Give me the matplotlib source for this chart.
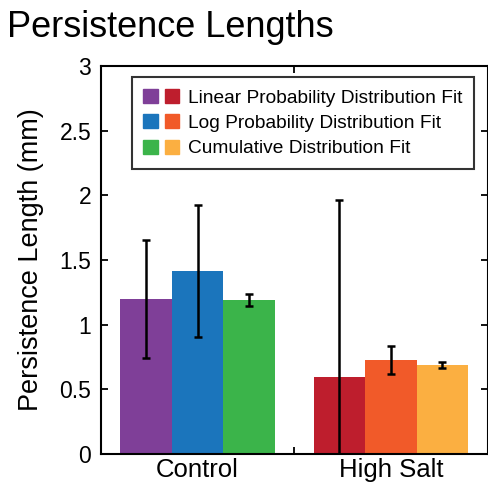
import numpy as np
import matplotlib.pyplot as plt
from matplotlib.patches import Patch
from matplotlib.legend_handler import HandlerTuple

plt.rcParams['font.family'] = ['Liberation Sans', 'DejaVu Sans']

groups = ['Control', 'High Salt']
fit_names = ['Linear Probability Distribution Fit',
             'Log Probability Distribution Fit',
             'Cumulative Distribution Fit']
# rows: fit method, columns: group
values = [[1.20, 0.595],
          [1.415, 0.727],
          [1.19, 0.688]]
errors = [[0.455, 1.37],
          [0.51, 0.11],
          [0.047, 0.022]]
colors = [['#7F3F98', '#BE1E2D'],
          ['#1B75BC', '#F15A29'],
          ['#3BB44A', '#FBAF41']]

fig = plt.figure(figsize=(4.88, 4.84), dpi=100)
ax = fig.add_axes([0.207, 0.062, 0.792, 0.802])

x = np.arange(1, len(groups) + 1)
width = 0.8 / 3
for i in range(3):
    pos = x + (i - 1) * width
    ax.bar(pos, values[i], width, color=colors[i], linewidth=0, zorder=1)
    ax.errorbar(pos, values[i], yerr=errors[i], fmt='none', ecolor='black',
                elinewidth=1.8, capsize=2.6, capthick=1.8, zorder=2)

ax.set_xlim(0.5, 2.5)
ax.set_ylim(0, 3)
ax.set_yticks([0, 0.5, 1, 1.5, 2, 2.5, 3])
ax.set_yticklabels(['0', '0.5', '1', '1.5', '2', '2.5', '3'])
ax.set_xticks([1.5])
ax.set_xticklabels([''])
ax.set_xticks(x, minor=True)
ax.set_xticklabels(groups, minor=True)
ax.tick_params(axis='x', which='minor', length=0, labelsize=18.5, pad=3)
ax.tick_params(axis='both', which='major', direction='in', length=5, width=1.3,
               top=True, right=True, labelsize=16.5)
ax.tick_params(axis='y', which='major', pad=7)
for s in ax.spines.values():
    s.set_linewidth(1.5)

ax.set_ylabel('Persistence Length (mm)', fontsize=19.5, labelpad=11)
fig.text(0.014, 0.924, 'Persistence Lengths', fontsize=26, ha='left', va='baseline')

handles = [(Patch(color=colors[i][0]), Patch(color=colors[i][1])) for i in range(3)]
leg = ax.legend(handles, fit_names, loc='upper left', bbox_to_anchor=(0.079, 0.97),
                handler_map={tuple: HandlerTuple(ndivide=None, pad=0.35)},
                handlelength=1.9, handleheight=0.75, handletextpad=0.45,
                fontsize=13.8, frameon=True, fancybox=False, edgecolor='black',
                borderpad=0.6, labelspacing=0.4, borderaxespad=0)
leg.get_frame().set_linewidth(1.5)

fig.savefig('out.png', dpi=100)
